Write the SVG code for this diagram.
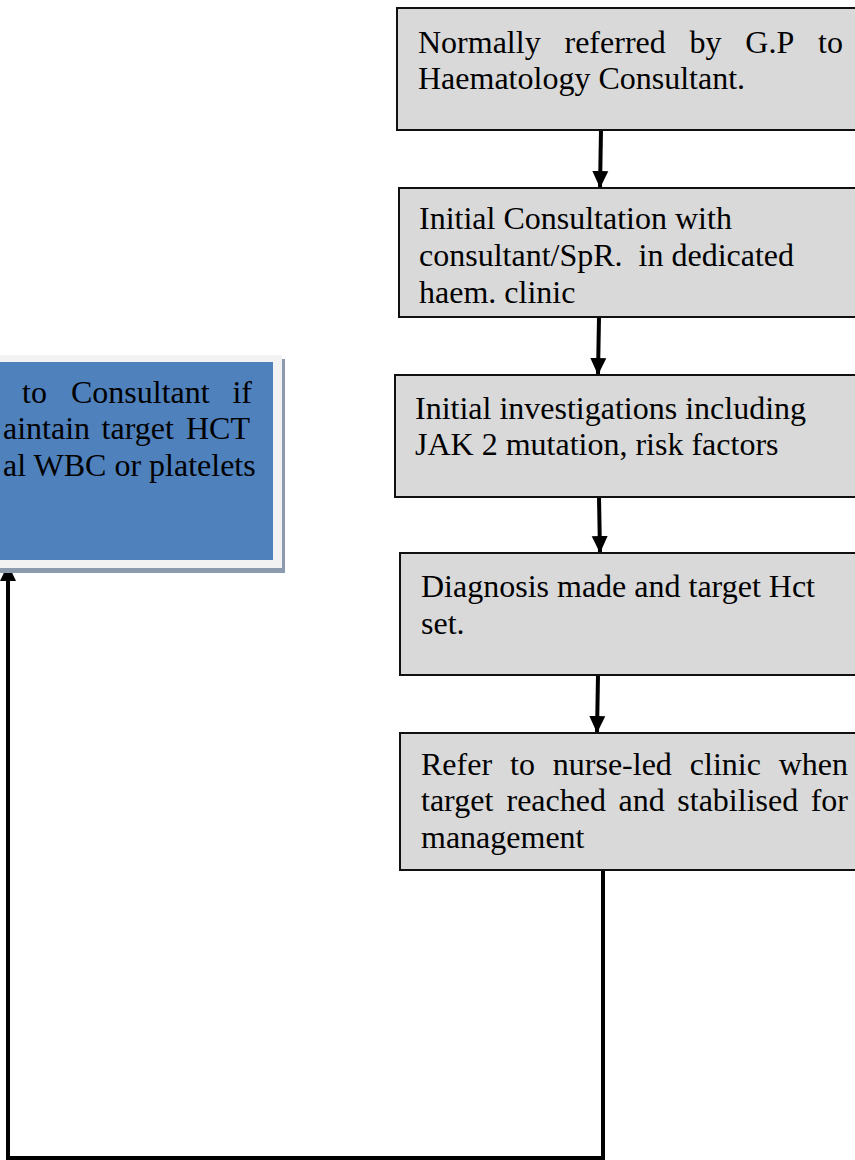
<svg xmlns="http://www.w3.org/2000/svg" width="855" height="1160" viewBox="0 0 855 1160">
<defs>
<style>
.box{fill:#d9d9d9;stroke:#111;stroke-width:2}
.t{font-family:"Liberation Serif","Times New Roman",serif;font-size:32px;fill:#000}
.c{fill:none;stroke:#000;stroke-width:4}
</style>
<marker id="ah" markerUnits="userSpaceOnUse" markerWidth="18" markerHeight="18" viewBox="0 0 18 18" refX="17" refY="9" orient="auto">
<path d="M0,1 L17,9 L0,17 Z" fill="#000"/>
</marker>
</defs>
<rect width="855" height="1160" fill="#fff"/>
<g id="connectors">
<line class="c" x1="601" y1="130" x2="600" y2="188" marker-end="url(#ah)"/>
<line class="c" x1="599" y1="317" x2="598" y2="375" marker-end="url(#ah)"/>
<line class="c" x1="599" y1="497" x2="600" y2="553" marker-end="url(#ah)"/>
<line class="c" x1="598" y1="675" x2="597" y2="733" marker-end="url(#ah)"/>
<polyline class="c" points="603,870 603,1158 8,1158 8,564" marker-end="url(#ah)"/>
</g>
<g id="feedback">
<rect x="-20" y="359" width="305" height="214" fill="#8c9aae"/>
<rect x="-20" y="355" width="302" height="213" fill="#f2f2f2"/>
<rect x="-20" y="362" width="293" height="198" fill="#4f81bd"/>
<text class="t" y="403"><tspan x="22">to</tspan><tspan x="71">Consultant</tspan><tspan x="252" text-anchor="end">if</tspan></text>
<text class="t" y="439"><tspan x="3">aintain</tspan><tspan x="101.6">target</tspan><tspan x="250" text-anchor="end">HCT</tspan></text>
<text class="t" y="476" x="3">al WBC or platelets</text>
</g>
<g id="n1">
<rect class="box" x="397" y="8" width="480" height="122"/>
<text class="t" y="53"><tspan x="418">Normally</tspan><tspan x="564.5">referred</tspan><tspan x="689.5">by</tspan><tspan x="745.3">G.P</tspan><tspan x="843" text-anchor="end">to</tspan></text>
<text class="t" x="418" y="89">Haematology Consultant.</text>
</g>
<g id="n2">
<rect class="box" x="399" y="188" width="480" height="129"/>
<text class="t" x="419" y="229">Initial Consultation with</text>
<text class="t" x="419" y="266" xml:space="preserve">consultant/SpR.  in dedicated</text>
<text class="t" x="419" y="303">haem. clinic</text>
</g>
<g id="n3">
<rect class="box" x="395" y="375" width="480" height="122"/>
<text class="t" x="415" y="419">Initial investigations including</text>
<text class="t" x="415" y="455">JAK 2 mutation, risk factors</text>
</g>
<g id="n4">
<rect class="box" x="400" y="553" width="480" height="122"/>
<text class="t" x="421" y="597">Diagnosis made and target Hct</text>
<text class="t" x="421" y="634">set.</text>
</g>
<g id="n5">
<rect class="box" x="400" y="733" width="480" height="137"/>
<text class="t" y="775"><tspan x="421">Refer</tspan><tspan x="510">to</tspan><tspan x="552.8">nurse-led</tspan><tspan x="689.8">clinic</tspan><tspan x="848" text-anchor="end">when</tspan></text>
<text class="t" y="811"><tspan x="421">target</tspan><tspan x="506.5">reached</tspan><tspan x="618.5">and</tspan><tspan x="677.3">stabilised</tspan><tspan x="848" text-anchor="end">for</tspan></text>
<text class="t" x="421" y="848">management</text>
</g>
</svg>
